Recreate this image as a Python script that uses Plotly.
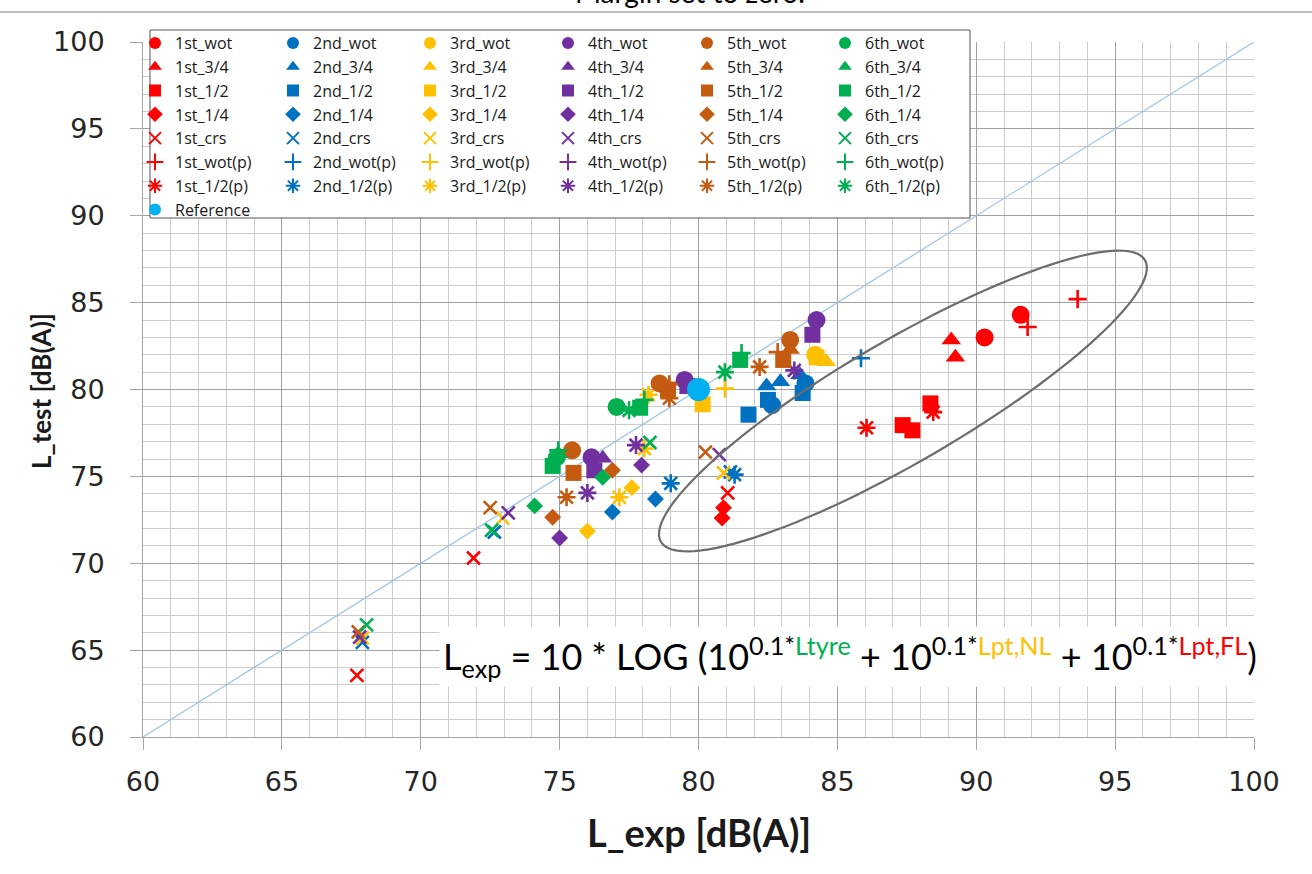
import numpy as np
import plotly.graph_objects as go

# ---------------- data ----------------
GEARS = ["1st", "2nd", "3rd", "4th", "5th", "6th"]
MODES = ["wot", "3/4", "1/2", "1/4", "crs", "wot(p)", "1/2(p)"]

WOT_X = [[91.6, 90.3], [82.65, 83.85], [84.2], [84.25, 79.5, 76.15], [75.45, 78.6, 83.3], [77.05, 74.9]]
WOT_Y = [[84.3, 83.0], [79.1, 80.35], [82.0], [84.0, 80.55, 76.1], [76.5, 80.35, 82.85], [79.0, 76.1]]
Q34_X = [[89.1, 89.25], [82.45, 82.95, 83.65], [84.6], [76.55], [83.3], [74.95]]
Q34_Y = [[82.85, 81.85], [80.2, 80.45, 80.85], [81.6], [76.05], [82.3], [76.3]]
Q12_X = [[88.35, 87.35, 87.7], [81.8, 82.5, 83.75], [84.25, 80.15], [84.1, 76.25, 79.6], [75.5, 83.05, 78.9], [77.9, 81.5, 74.75]]
Q12_Y = [[79.2, 77.95, 77.65], [78.55, 79.4, 79.8], [81.85, 79.15], [83.15, 75.35, 80.2], [75.2, 81.7, 80.0], [78.95, 81.7, 75.6]]
Q14_X = [[80.9, 80.85], [76.9, 78.45], [76.0, 77.6], [75.0, 77.95], [74.75, 76.9], [74.1, 76.55]]
Q14_Y = [[73.2, 72.6], [72.95, 73.7], [71.85, 74.35], [71.45, 75.65], [72.65, 75.35], [73.3, 74.95]]
CRS_X = [[71.9, 67.7, 81.05], [72.65, 67.9, 81.15], [72.95, 67.9, 80.9], [73.15, 67.8, 80.75], [72.5, 67.75, 80.25], [72.55, 68.05, 78.25]]
CRS_Y = [[70.3, 63.55, 74.05], [71.8, 65.45, 75.25], [72.6, 65.7, 75.2], [72.9, 65.75, 76.25], [73.2, 66.05, 76.4], [71.9, 66.45, 76.95]]
WOTP_X = [[93.65, 91.85], [85.85], [80.95], [79.6], [82.85, 78.95], [81.55, 78.05, 74.95]]
WOTP_Y = [[85.2, 83.6], [81.8], [80.05], [80.4], [82.15, 80.3], [82.1, 79.4, 76.5]]
HALFP_X = [[86.05, 88.45], [79.0, 81.3], [77.15, 78.2, 78.05], [76.0, 77.75, 83.45], [75.25, 82.2, 78.95], [80.95, 77.5]]
HALFP_Y = [[77.8, 78.7], [74.6, 75.1], [73.8, 79.7, 76.6], [74.05, 76.8, 81.1], [73.8, 81.3, 79.5], [81.0, 78.8]]
REF_X = [80.0]
REF_Y = [80.0]

AXIS_RANGE = [60, 100]
TICK_LABELS = ["60", "65", "70", "75", "80", "85", "90", "95", "100"]
TICK_VALUES = [60, 65, 70, 75, 80, 85, 90, 95, 100]

# ---------------- styles ----------------
GEAR_COLORS = ["#FF0000", "#0070C0", "#FFC000", "#7030A0", "#C55A11", "#00B050"]
REF_COLOR = "#00B0F0"
MODE_SYMBOLS = ["circle", "triangle-up", "square", "diamond", "x-thin-open", "cross-thin-open", "asterisk-open"]
MODE_SIZES = [18, 17, 16, 13, 13, 13, 15]
OPEN = [False, False, False, False, True, True, True]

W, H = 1312, 874
ML, MT = 143, 42
PW, PH = 1111, 695
MR = W - ML - PW
MB = H - MT - PH


def px_x(p):  # screen pixel -> paper x
    return (p - ML) / PW


def px_y(p):  # screen pixel -> paper y
    return (MT + PH - p) / PH


fig = go.Figure()

# 1:1 line
fig.add_trace(go.Scatter(x=AXIS_RANGE, y=AXIS_RANGE, mode="lines",
                         line=dict(color="#9DC3E6", width=1.2),
                         showlegend=False, hoverinfo="skip"))

mode_data = [(WOT_X, WOT_Y), (Q34_X, Q34_Y), (Q12_X, Q12_Y), (Q14_X, Q14_Y),
             (CRS_X, CRS_Y), (WOTP_X, WOTP_Y), (HALFP_X, HALFP_Y)]
legend_ids = ["legend", "legend2", "legend3", "legend4", "legend5", "legend6"]

for g, gear in enumerate(GEARS):
    for m, mode in enumerate(MODES):
        xs, ys = mode_data[m]
        col = GEAR_COLORS[g]
        if OPEN[m]:
            marker = dict(symbol=MODE_SYMBOLS[m], size=MODE_SIZES[m], color=col,
                          line=dict(color=col, width=2.6))
        else:
            marker = dict(symbol=MODE_SYMBOLS[m], size=MODE_SIZES[m], color=col,
                          line=dict(width=0))
        fig.add_trace(go.Scatter(x=xs[g], y=ys[g], mode="markers", name=f"{gear}_{mode}",
                                 marker=marker, legend=legend_ids[g]))

fig.add_trace(go.Scatter(x=REF_X, y=REF_Y, mode="markers", name="Reference",
                         marker=dict(symbol="circle", size=23, color=REF_COLOR),
                         legend="legend"))

# ellipse (annotation shape) defined by centre / semi-axes in px / angle
ELL_CX, ELL_CY = 87.36, 79.34
ELL_A, ELL_B, ELL_ANG = 280, 61, np.deg2rad(30.2)
ppx = PW / (AXIS_RANGE[1] - AXIS_RANGE[0])
ppy = PH / (AXIS_RANGE[1] - AXIS_RANGE[0])
t = np.linspace(0, 2 * np.pi, 121)
ex = ELL_CX + (ELL_A * np.cos(t) * np.cos(ELL_ANG) - ELL_B * np.sin(t) * np.sin(ELL_ANG)) / ppx
ey = ELL_CY + (ELL_A * np.cos(t) * np.sin(ELL_ANG) + ELL_B * np.sin(t) * np.cos(ELL_ANG)) / ppy
path = "M " + " L ".join(f"{a:.3f},{b:.3f}" for a, b in zip(ex, ey)) + " Z"

shapes = [
    dict(type="path", path=path, xref="x", yref="y", line=dict(color="#6d6d6d", width=2.2), layer="above"),
    # legend box
    dict(type="rect", xref="paper", yref="paper", x0=px_x(150), x1=px_x(970), y0=px_y(218), y1=px_y(30),
         fillcolor="white", line=dict(color="#555555", width=1), layer="above"),
    # top separator line
    dict(type="line", xref="paper", yref="paper", x0=px_x(0), x1=px_x(W), y0=px_y(12), y1=px_y(12),
         line=dict(color="#a6a6a6", width=1.5)),
]

FORMULA = ("L<sub>exp</sub> = 10 * LOG (10<sup>0.1*<span style='color:#00B050'>Ltyre</span></sup>"
           " + 10<sup>0.1*<span style='color:#FFC000'>Lpt,NL</span></sup>"
           " + 10<sup>0.1*<span style='color:#FF0000'>Lpt,FL</span></sup>)")

annotations = [
    dict(text=FORMULA, xref="paper", yref="paper", x=px_x(850), y=px_y(656), xanchor="center", yanchor="middle",
         showarrow=False, bgcolor="white", borderpad=3, font=dict(family="Lato", size=36, color="black")),
    dict(text="Margin set to zero.", xref="paper", yref="paper", x=px_x(690), y=px_y(11), xanchor="center",
         yanchor="bottom", showarrow=False, font=dict(family="Lato", size=28, color="black")),
    # axis titles
    dict(text="<b>L_exp [dB(A)]</b>", xref="paper", yref="paper", x=px_x(699), y=px_y(832),
         xanchor="center", yanchor="middle", showarrow=False,
         font=dict(family="Lato", size=38, color="#1a1a1a")),
    dict(text="<b>L_test [dB(A)]</b>", xref="paper", yref="paper", x=px_x(41), y=px_y(391),
         xanchor="center", yanchor="middle", showarrow=False, textangle=-90,
         font=dict(family="Lato", size=26, color="#1a1a1a")),
]

axis_common = dict(range=AXIS_RANGE, tickmode="array", tickvals=TICK_VALUES, ticktext=TICK_LABELS,
                   showgrid=True, gridcolor="#a0a0a0", gridwidth=1,
                   minor=dict(dtick=1, tick0=60, showgrid=True, gridcolor="#cccccc", gridwidth=1, ticks=""),
                   showline=True, linecolor="#a6a6a6", linewidth=1,
                   ticks="outside", ticklen=12, tickcolor="#a6a6a6",
                   tickfont=dict(family="DejaVu Sans", size=27, color="#262626"),
                   zeroline=False, fixedrange=True)

fig.update_layout(
    width=W, height=H, margin=dict(l=ML, r=MR, t=MT, b=MB, autoexpand=False),
    paper_bgcolor="white", plot_bgcolor="white",
    xaxis=dict(axis_common, ticklabelstandoff=9),
    yaxis=dict(axis_common, ticklabelstandoff=20),
    shapes=shapes, annotations=annotations, showlegend=True,
)

LEG_LEFT_PX = [135, 273, 410, 548, 687, 825]
for i, lid in enumerate(legend_ids):
    fig.update_layout({lid: dict(x=px_x(LEG_LEFT_PX[i]), y=px_y(26), xanchor="left", yanchor="top",
                                 orientation="v", bgcolor="rgba(0,0,0,0)", borderwidth=0,
                                 itemsizing="constant", tracegroupgap=0,
                                 font=dict(family="Open Sans", size=16, color="#1a1a1a"))})

fig.write_html("out.html", config={"displayModeBar": False},
               post_script="document.body.style.margin='0px';")
